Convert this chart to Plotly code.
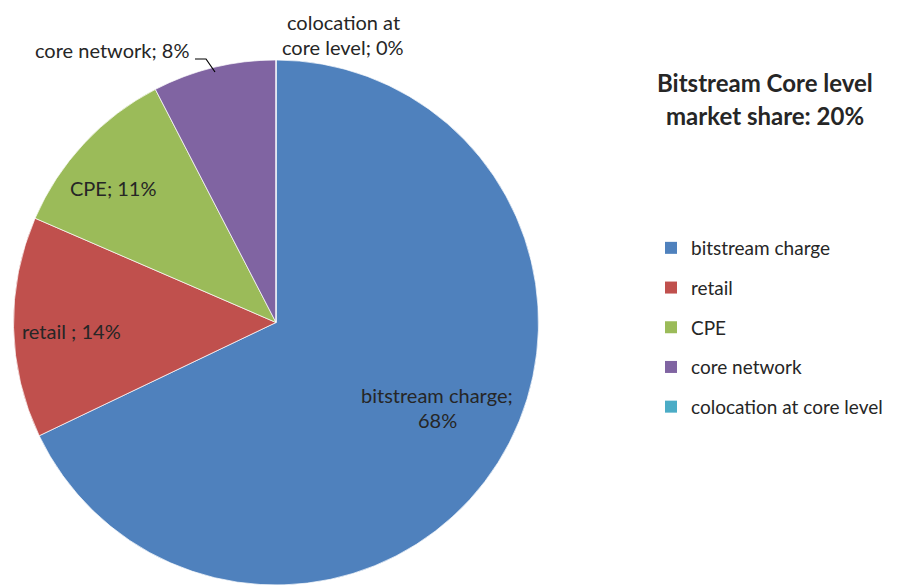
import plotly.graph_objects as go

# page body has an 8px margin; work in window pixels and shift
OFF = 8
W, H = 897 - OFF, 585 - OFF

# ---- data ----
categories = ["bitstream charge", "retail", "CPE", "core network", "colocation at core level"]
values = [67.9, 13.6, 10.9, 7.6, 0.0]
colors = ["#4F81BD", "#C0504D", "#9BBB59", "#8064A2", "#4BACC6"]
title_lines = ["Bitstream Core level", "market share: 20%"]

FONT = "Lato"
TXT = "#262626"

total = sum(values)
pct = [round(v / total * 100) for v in values]

def px(x):
    return (x - OFF) / W

def py(y):
    return (H - (y - OFF)) / H

fig = go.Figure()

# pie centred at (276, 323) window px, radius 263 px
cx, cy, r = 276, 323, 263
fig.add_trace(go.Pie(
    labels=categories, values=values, sort=False, direction="clockwise", rotation=0,
    marker=dict(colors=colors, line=dict(color="white", width=0.7)),
    textinfo="none", hoverinfo="label+percent", showlegend=False,
    domain=dict(x=[px(cx - r), px(cx + r)], y=[max(0, py(cy + r)), min(1, py(cy - r))]),
))

# legend entries (dummy traces so entry spacing can be controlled)
for name, col in zip(categories, colors):
    fig.add_trace(go.Scatter(
        x=[None], y=[None], mode="markers", name=name, legendgroup=name,
        marker=dict(symbol="square", size=12, color=col),
    ))

# slice labels: (lines, x, y) in window px
label_specs = [
    ([f"{categories[0]};", f"{pct[0]}%"], 437, [395, 420]),
    ([f"{categories[1]} ; {pct[1]}%"], 71, [331]),
    ([f"{categories[2]}; {pct[2]}%"], 113, [188]),
    ([f"{categories[3]}; {pct[3]}%"], 112, [50]),
    (["colocation at", f"core level; {pct[4]}%"], 343, [22, 47]),
]
for lines, x, ys in label_specs:
    for line, y in zip(lines, ys):
        fig.add_annotation(x=px(x), y=py(y), xref="paper", yref="paper", text=line,
                           showarrow=False, xanchor="center", yanchor="middle",
                           font=dict(family=FONT, size=20, color=TXT))

# leader line for core network label
fig.add_shape(type="path", xref="paper", yref="paper",
              path=f"M {px(195)},{py(59)} L {px(206)},{py(59)} L {px(215)},{py(72)}",
              line=dict(color="black", width=1.2))

# title
for line, y in zip(title_lines, [82, 115]):
    fig.add_annotation(x=px(765), y=py(y), xref="paper", yref="paper", text=f"<b>{line}</b>",
                       showarrow=False, xanchor="center", yanchor="middle",
                       font=dict(family=FONT, size=24, color=TXT))

fig.update_layout(
    width=W, height=H,
    margin=dict(l=0, r=0, t=0, b=0),
    paper_bgcolor="white", plot_bgcolor="white",
    xaxis=dict(visible=False), yaxis=dict(visible=False),
    legend=dict(x=px(651), y=py(229), xanchor="left", yanchor="top",
                traceorder="grouped", tracegroupgap=12, itemwidth=30,
                font=dict(family=FONT, size=19, color=TXT),
                bgcolor="rgba(0,0,0,0)", itemclick=False, itemdoubleclick=False),
    showlegend=True,
    font=dict(family=FONT),
)

fig.write_html("out.html")
